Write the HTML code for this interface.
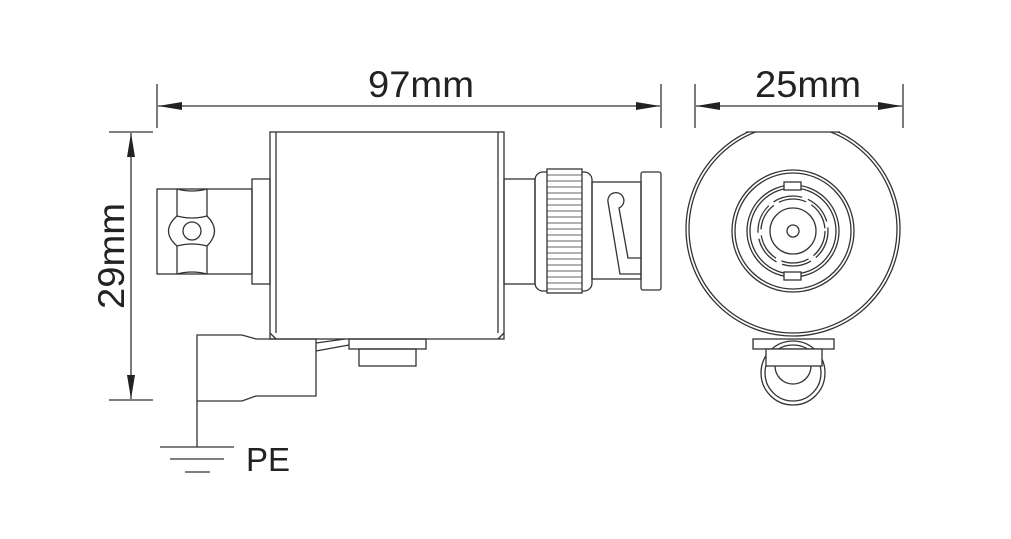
<!DOCTYPE html>
<html><head><style>body{margin:0;background:#fff}svg{display:block}</style></head><body>
<svg width="1011" height="539" viewBox="0 0 1011 539" xmlns="http://www.w3.org/2000/svg" font-family="Liberation Sans, sans-serif">
<defs>
<marker id="a" viewBox="0 0 24 8" refX="24" refY="4" markerWidth="24" markerHeight="8" markerUnits="userSpaceOnUse" orient="auto-start-reverse"><path d="M24,4 L0,0 L0,8 Z" fill="#222"/></marker>
<clipPath id="c"><rect x="600" y="132" width="400" height="300"/></clipPath>
</defs>
<g stroke="#333" stroke-width="1.3" fill="none">
<!-- dimensions -->
<line x1="157" y1="84" x2="157" y2="128"/><line x1="661" y1="84" x2="661" y2="128"/>
<line x1="158" y1="106" x2="660" y2="106" marker-start="url(#a)" marker-end="url(#a)"/>
<line x1="695" y1="84" x2="695" y2="128"/><line x1="903" y1="84" x2="903" y2="128"/>
<line x1="696" y1="106" x2="902" y2="106" marker-start="url(#a)" marker-end="url(#a)"/>
<line x1="109" y1="132" x2="153" y2="132"/><line x1="109" y1="400" x2="153" y2="400"/>
<line x1="131" y1="133" x2="131" y2="399" marker-start="url(#a)" marker-end="url(#a)"/>
<!-- main body -->
<rect x="270" y="132" width="234" height="207"/>
<line x1="276" y1="132" x2="276" y2="333"/><line x1="498" y1="132" x2="498" y2="333"/>
<line x1="270" y1="333" x2="276" y2="339"/><line x1="504" y1="333" x2="498" y2="339"/>
<!-- left -->
<rect x="252" y="179" width="18" height="105"/>
<rect x="157" y="189" width="95" height="85"/>
<path d="M177,189 Q192,193 207,189 M177,274 Q192,270 207,274"/>
<line x1="177" y1="189" x2="177" y2="216"/><line x1="177" y1="246" x2="177" y2="274"/>
<line x1="207" y1="189" x2="207" y2="216"/><line x1="207" y1="246" x2="207" y2="274"/>
<path d="M177,216 Q160,231 177,246 Q192,242 207,246 Q222,231 207,216 Q192,220 177,216 Z"/>
<circle cx="192" cy="231" r="9"/>
<!-- right -->
<rect x="504" y="179" width="31" height="105"/>
<rect x="535" y="172" width="57" height="119" rx="8"/>
<rect x="547" y="169" width="35" height="124" fill="#fff"/>
<path d="M547,175 H582 M547,181 H582 M547,187 H582 M547,193 H582 M547,199 H582 M547,205 H582 M547,211 H582 M547,217 H582 M547,223 H582 M547,229 H582 M547,235 H582 M547,241 H582 M547,247 H582 M547,253 H582 M547,259 H582 M547,265 H582 M547,271 H582 M547,277 H582 M547,283 H582 M547,289 H582" stroke-width="0.8"/>
<rect x="592" y="182" width="49" height="97"/>
<rect x="641" y="172" width="20" height="118" rx="2"/>
<path d="M641,258 H628 L619,208 A8,8 0 1 0 608,202 L620,274 H641"/>
<!-- ground block -->
<path d="M316,339 V396 H256 L242,401 H197 V335 H242 L256,339 Z"/>
<path d="M316,343 L345,339 M316,351 L349,345"/>
<rect x="349" y="339" width="77" height="10"/>
<rect x="359" y="349" width="57" height="17"/>
<line x1="197" y1="401" x2="197" y2="447"/>
<line x1="160" y1="447" x2="234" y2="447"/><line x1="170" y1="459" x2="224" y2="459"/><line x1="185" y1="472" x2="210" y2="472"/>
<!-- end view -->
<g clip-path="url(#c)">
<circle cx="793" cy="229" r="107"/>
<circle cx="793" cy="229" r="104"/>
</g>
<path d="M746,132 H840"/>
<circle cx="793" cy="231" r="61"/><circle cx="793" cy="231" r="58"/>
<circle cx="793" cy="231" r="46"/><circle cx="793" cy="231" r="43"/>
<circle cx="793" cy="231" r="35" stroke-dasharray="30 6"/>
<circle cx="793" cy="231" r="32" stroke-dasharray="28 6"/>
<circle cx="793" cy="231" r="23"/><circle cx="793" cy="231" r="6"/>
<rect x="784" y="182" width="17" height="8" fill="#fff"/>
<rect x="784" y="272" width="17" height="8" fill="#fff"/>
<rect x="753" y="339" width="81" height="10" fill="#fff"/>
<circle cx="793" cy="373" r="32"/><circle cx="793" cy="373" r="28"/>
<rect x="766" y="349" width="56" height="17" fill="#fff"/>
<path d="M775,366 A18,18 0 0 0 811,366"/>
</g>
<g fill="#222">
<text x="421" y="97" font-size="37" text-anchor="middle" textLength="106" lengthAdjust="spacingAndGlyphs">97mm</text>
<text x="808" y="97" font-size="37" text-anchor="middle" textLength="106" lengthAdjust="spacingAndGlyphs">25mm</text>
<text transform="translate(124,256) rotate(-90)" font-size="37" text-anchor="middle" textLength="106" lengthAdjust="spacingAndGlyphs">29mm</text>
<text x="246" y="471" font-size="33">PE</text>
</g>
</svg>
</body></html>
